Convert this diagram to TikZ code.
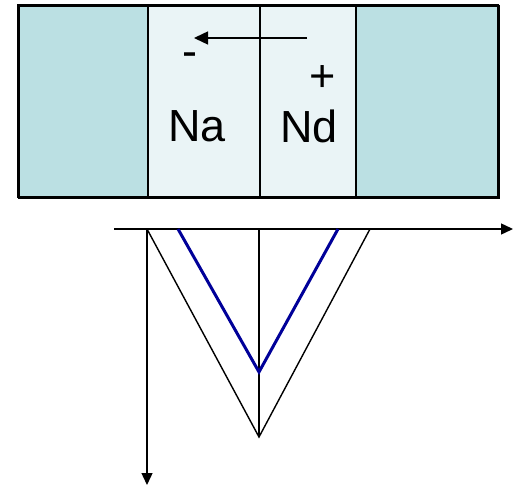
\documentclass[tikz,border=0pt]{standalone}
\usepackage{fontspec}
\setmainfont{Liberation Sans}
\usetikzlibrary{arrows.meta}
\definecolor{outerfill}{HTML}{BBE0E3}
\definecolor{innerfill}{HTML}{EAF4F6}
\definecolor{vblue}{HTML}{000099}
\begin{document}
\begin{tikzpicture}[x=1pt,y=-1pt,
  region/.style={draw=black,line width=1.6pt},
  lbl/.style={font=\fontsize{45}{45}\selectfont,inner sep=0pt},
  axis/.style={line width=1.4pt,-{Triangle[length=12pt,width=11pt]}},
  thin/.style={line width=1.4pt}]
\useasboundingbox (0,0) rectangle (518,486);
% box regions
\node[region,fill=outerfill,minimum width=129pt,minimum height=192pt,anchor=north west,inner sep=0pt] (left) at (18,5) {};
\node[region,fill=innerfill,minimum width=112pt,minimum height=192pt,anchor=north west,inner sep=0pt] (na) at (147,5) {};
\node[region,fill=innerfill,minimum width=96pt,minimum height=192pt,anchor=north west,inner sep=0pt] (nd) at (259,5) {};
\node[region,fill=outerfill,minimum width=143pt,minimum height=192pt,anchor=north west,inner sep=0pt] (right) at (355,5) {};
\draw[region,fill=none] (18,5) rectangle (498,197);
% arrow
\coordinate (as) at (307,38);
\coordinate (ae) at (194,38);
\draw[line width=1.4pt,-{Triangle[length=14pt,width=13pt]}] (as) -- (ae);
% labels
\node[lbl] (minus) at (190,60) {-};
\node[lbl] (plus) at (323,79) {+};
\node[lbl] (natext) at (197,126) {Na};
\node[lbl] (ndtext) at (309,126) {Nd};
% axes
\coordinate (ox) at (114,229);
\coordinate (xe) at (513,229);
\coordinate (o) at (147,229);
\coordinate (ye) at (147,485);
\coordinate (c) at (259,229);
\coordinate (bot) at (259,437);
\coordinate (br) at (370,229);
\coordinate (bl1) at (178,229);
\coordinate (bmid) at (259,372);
\coordinate (br1) at (338,229);
\draw[axis] (ox) -- (xe);
\draw[axis] (o) -- (ye);
\draw[thin] (c) -- (bot);
\draw[thin,line join=miter] (o) -- (bot) -- (br);
\draw[vblue,line width=3pt,line join=miter] (bl1) -- (bmid) -- (br1);
\end{tikzpicture}
\end{document}
